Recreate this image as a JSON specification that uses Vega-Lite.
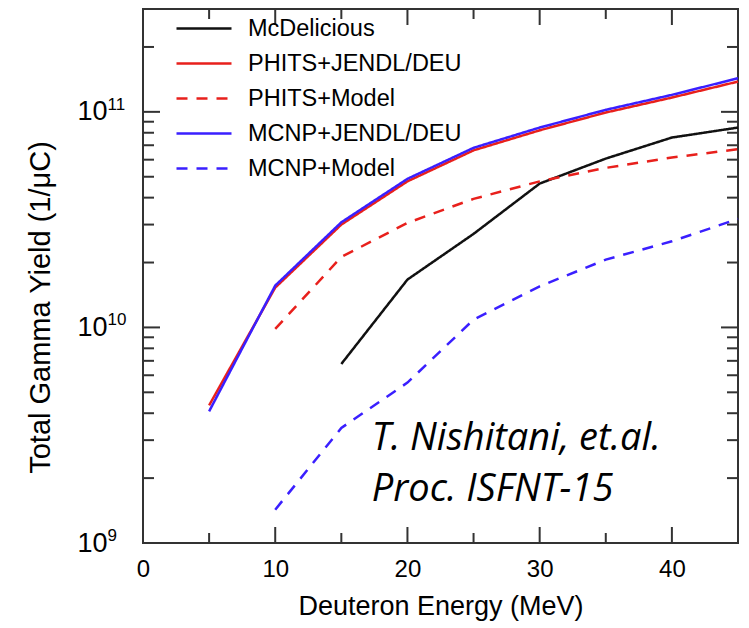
{
  "$schema": "https://vega.github.io/schema/vega-lite/v6.json",
  "width": 595,
  "height": 534,
  "autosize": {"type": "none"},
  "padding": {"left": 143, "top": 9, "right": 11, "bottom": 85},
  "background": "white",
  "config": {
    "view": {"stroke": "#333333", "strokeWidth": 2},
    "axis": {
      "domain": false,
      "grid": false,
      "ticks": false,
      "tickSize": 0,
      "labelFont": "Liberation Sans",
      "titleFont": "Liberation Sans",
      "labelColor": "#000000",
      "titleColor": "#000000",
      "titleFontWeight": "normal",
      "labelOverlap": false,
      "labelFlush": false
    }
  },
  "datasets": {
    "xmajor": [{"v": 10}, {"v": 20}, {"v": 30}, {"v": 40}],
    "xminor": [{"v": 5}, {"v": 15}, {"v": 25}, {"v": 35}],
    "ymajor": [{"v": 1e10}, {"v": 1e11}],
    "yminor": [{"v": 2e9}, {"v": 3e9}, {"v": 4e9}, {"v": 5e9}, {"v": 6e9}, {"v": 7e9}, {"v": 8e9}, {"v": 9e9}, {"v": 2e10}, {"v": 3e10}, {"v": 4e10}, {"v": 5e10}, {"v": 6e10}, {"v": 7e10}, {"v": 8e10}, {"v": 9e10}, {"v": 2e11}, {"v": 3e11}]
  },
  "layer": [
    {
      "data": {"name": "xmajor"},
      "mark": {"type": "tick", "orient": "vertical", "size": 16, "thickness": 2, "color": "#333333", "opacity": 1, "yOffset": -8},
      "encoding": {"x": {"field": "v", "type": "quantitative", "axis": null}, "y": {"datum": 1e9, "type": "quantitative", "axis": null}}
    },
    {
      "data": {"name": "xmajor"},
      "mark": {"type": "tick", "orient": "vertical", "size": 16, "thickness": 2, "color": "#333333", "opacity": 1, "yOffset": 8},
      "encoding": {"x": {"field": "v", "type": "quantitative", "axis": null}, "y": {"datum": 3e11, "type": "quantitative", "axis": null}}
    },
    {
      "data": {"name": "xminor"},
      "mark": {"type": "tick", "orient": "vertical", "size": 10, "thickness": 2, "color": "#333333", "opacity": 1, "yOffset": -5},
      "encoding": {"x": {"field": "v", "type": "quantitative", "axis": null}, "y": {"datum": 1e9, "type": "quantitative", "axis": null}}
    },
    {
      "data": {"name": "xminor"},
      "mark": {"type": "tick", "orient": "vertical", "size": 10, "thickness": 2, "color": "#333333", "opacity": 1, "yOffset": 5},
      "encoding": {"x": {"field": "v", "type": "quantitative", "axis": null}, "y": {"datum": 3e11, "type": "quantitative", "axis": null}}
    },
    {
      "data": {"name": "ymajor"},
      "mark": {"type": "tick", "orient": "horizontal", "size": 17, "thickness": 2, "color": "#333333", "opacity": 1, "xOffset": 8.5},
      "encoding": {"y": {"field": "v", "type": "quantitative", "axis": null}, "x": {"datum": 0, "type": "quantitative", "axis": null}}
    },
    {
      "data": {"name": "ymajor"},
      "mark": {"type": "tick", "orient": "horizontal", "size": 17, "thickness": 2, "color": "#333333", "opacity": 1, "xOffset": -8.5},
      "encoding": {"y": {"field": "v", "type": "quantitative", "axis": null}, "x": {"datum": 45, "type": "quantitative", "axis": null}}
    },
    {
      "data": {"name": "yminor"},
      "mark": {"type": "tick", "orient": "horizontal", "size": 11, "thickness": 2, "color": "#333333", "opacity": 1, "xOffset": 5.5},
      "encoding": {"y": {"field": "v", "type": "quantitative", "axis": null}, "x": {"datum": 0, "type": "quantitative", "axis": null}}
    },
    {
      "data": {"name": "yminor"},
      "mark": {"type": "tick", "orient": "horizontal", "size": 11, "thickness": 2, "color": "#333333", "opacity": 1, "xOffset": -5.5},
      "encoding": {"y": {"field": "v", "type": "quantitative", "axis": null}, "x": {"datum": 45, "type": "quantitative", "axis": null}}
    },
    {
      "data": {
        "values": [
          {"series": "McDelicious", "e": 15, "y": 6.77e9},
          {"series": "McDelicious", "e": 20, "y": 1.667e10},
          {"series": "McDelicious", "e": 25, "y": 2.716e10},
          {"series": "McDelicious", "e": 30, "y": 4.648e10},
          {"series": "McDelicious", "e": 35, "y": 6.07e10},
          {"series": "McDelicious", "e": 40, "y": 7.6e10},
          {"series": "McDelicious", "e": 45, "y": 8.455e10},
          {"series": "PHITS+JENDL/DEU", "e": 5, "y": 4.35e9},
          {"series": "PHITS+JENDL/DEU", "e": 10, "y": 1.53e10},
          {"series": "PHITS+JENDL/DEU", "e": 15, "y": 3.0e10},
          {"series": "PHITS+JENDL/DEU", "e": 20, "y": 4.76e10},
          {"series": "PHITS+JENDL/DEU", "e": 25, "y": 6.63e10},
          {"series": "PHITS+JENDL/DEU", "e": 30, "y": 8.21e10},
          {"series": "PHITS+JENDL/DEU", "e": 35, "y": 9.93e10},
          {"series": "PHITS+JENDL/DEU", "e": 40, "y": 1.165e11},
          {"series": "PHITS+JENDL/DEU", "e": 45, "y": 1.382e11},
          {"series": "PHITS+Model", "e": 10, "y": 9.84e9},
          {"series": "PHITS+Model", "e": 15, "y": 2.124e10},
          {"series": "PHITS+Model", "e": 20, "y": 3.054e10},
          {"series": "PHITS+Model", "e": 25, "y": 3.948e10},
          {"series": "PHITS+Model", "e": 30, "y": 4.76e10},
          {"series": "PHITS+Model", "e": 35, "y": 5.497e10},
          {"series": "PHITS+Model", "e": 40, "y": 6.14e10},
          {"series": "PHITS+Model", "e": 45, "y": 6.71e10},
          {"series": "MCNP+JENDL/DEU", "e": 5, "y": 4.08e9},
          {"series": "MCNP+JENDL/DEU", "e": 10, "y": 1.563e10},
          {"series": "MCNP+JENDL/DEU", "e": 15, "y": 3.074e10},
          {"series": "MCNP+JENDL/DEU", "e": 20, "y": 4.889e10},
          {"series": "MCNP+JENDL/DEU", "e": 25, "y": 6.81e10},
          {"series": "MCNP+JENDL/DEU", "e": 30, "y": 8.455e10},
          {"series": "MCNP+JENDL/DEU", "e": 35, "y": 1.022e11},
          {"series": "MCNP+JENDL/DEU", "e": 40, "y": 1.199e11},
          {"series": "MCNP+JENDL/DEU", "e": 45, "y": 1.432e11},
          {"series": "MCNP+Model", "e": 10, "y": 1.427e9},
          {"series": "MCNP+Model", "e": 15, "y": 3.417e9},
          {"series": "MCNP+Model", "e": 20, "y": 5.545e9},
          {"series": "MCNP+Model", "e": 25, "y": 1.087e10},
          {"series": "MCNP+Model", "e": 30, "y": 1.551e10},
          {"series": "MCNP+Model", "e": 35, "y": 2.063e10},
          {"series": "MCNP+Model", "e": 40, "y": 2.509e10},
          {"series": "MCNP+Model", "e": 45, "y": 3.188e10}
        ]
      },
      "mark": {"type": "line", "strokeWidth": 2.5},
      "encoding": {
        "x": {
          "field": "e",
          "type": "quantitative",
          "scale": {"domain": [0, 45], "nice": false, "zero": false},
          "axis": {
            "orient": "bottom",
            "values": [0, 10, 20, 30, 40],
            "ticks": false, "tickSize": 0,
            "labelFontSize": 24,
            "labelPadding": 14,
            "title": "Deuteron Energy (MeV)",
            "titleFontSize": 27,
            "titlePadding": 12
          }
        },
        "y": {
          "field": "y",
          "type": "quantitative",
          "scale": {"type": "log", "domain": [1e9, 3e11], "nice": false},
          "axis": {
            "orient": "left",
            "values": [1e9, 1e10, 1e11],
            "ticks": false, "tickSize": 0,
            "labelExpr": "'10'",
            "labelAlign": "left",
            "labelBaseline": "middle",
            "labelFontSize": 27,
            "labelPadding": 66,
            "title": "Total Gamma Yield (1/μC)",
            "titleFontSize": 29,
            "titlePadding": 22,
            "titleY": 298
          }
        },
        "color": {
          "field": "series",
          "type": "nominal",
          "scale": {
            "domain": ["McDelicious", "PHITS+JENDL/DEU", "PHITS+Model", "MCNP+JENDL/DEU", "MCNP+Model"],
            "range": ["#111111", "#e8201c", "#e8201c", "#3a1fff", "#3a1fff"]
          },
          "legend": {
            "orient": "none", "legendX": 32, "legendY": 2, "title": null,
            "symbolType": "stroke", "symbolSize": 3025, "symbolStrokeWidth": 2.5,
            "labelFontSize": 23.5, "labelFont": "Liberation Sans", "labelColor": "#000000", "labelLimit": 400,
            "labelOffset": 15, "clipHeight": 35, "rowPadding": 0, "padding": 0
          }
        },
        "strokeDash": {
          "field": "series",
          "type": "nominal",
          "scale": {
            "domain": ["McDelicious", "PHITS+JENDL/DEU", "PHITS+Model", "MCNP+JENDL/DEU", "MCNP+Model"],
            "range": [[1, 0], [1, 0], [11, 9], [1, 0], [11, 9]]
          },
          "legend": {
            "orient": "none", "legendX": 32, "legendY": 2, "title": null,
            "symbolType": "stroke", "symbolSize": 3025, "symbolStrokeWidth": 2.5,
            "labelFontSize": 23.5, "labelFont": "Liberation Sans", "labelColor": "#000000", "labelLimit": 400,
            "labelOffset": 15, "clipHeight": 35, "rowPadding": 0, "padding": 0
          }
        }
      }
    },
    {
      "data": {
        "values": [
          {"e": 17.3, "y": 2.69e9, "label": "T. Nishitani, et.al."},
          {"e": 17.3, "y": 1.56e9, "label": "Proc. ISFNT-15"}
        ]
      },
      "mark": {"type": "text", "align": "left", "baseline": "alphabetic", "font": "Open Sans", "fontStyle": "italic", "fontSize": 38, "color": "#000000"},
      "encoding": {
        "x": {"field": "e", "type": "quantitative", "axis": null},
        "y": {
          "field": "y", "type": "quantitative",
          "axis": {
            "orient": "left", "values": [1e9, 1e10, 1e11], "ticks": false, "tickSize": 0,
            "labelExpr": "datum.value === 1e9 ? '9' : datum.value === 1e10 ? '10' : '11'",
            "labelAlign": "left", "labelBaseline": "middle", "labelPadding": 36, "labelFontSize": 17, "labelOffset": -7.5,
            "title": null
          }
        },
        "text": {"field": "label", "type": "nominal"}
      }
    }
  ],
  "resolve": {"scale": {"x": "shared", "y": "shared"}, "axis": {"x": "independent", "y": "independent"}}
}
